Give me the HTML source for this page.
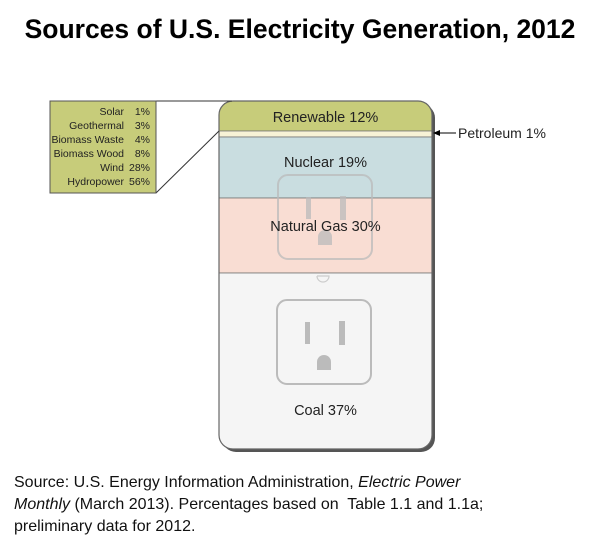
<!DOCTYPE html>
<html><head><meta charset="utf-8"><style>
body{margin:0;background:#fff;width:600px;height:550px;overflow:hidden;font-family:"Liberation Sans",Arial,sans-serif;position:relative}
#title{position:absolute;left:0;width:600px;top:14px;text-align:center;font-weight:bold;font-size:26.5px;color:#000;white-space:nowrap}
#source{position:absolute;left:14px;top:472px;font-size:16px;line-height:22px;color:#111;width:590px;white-space:nowrap}
svg{position:absolute;left:0;top:0}
</style></head><body>
<div id="title">Sources of U.S. Electricity Generation, 2012</div>
<svg id="chart" width="600" height="550"></svg>
<div id="source">Source: U.S. Energy Information Administration, <i>Electric Power</i><br><i>Monthly</i> (March 2013). Percentages based on&nbsp; Table 1.1 and 1.1a;<br>preliminary data for 2012.</div>
<script>
const sources=["Renewable","Petroleum","Nuclear","Natural Gas","Coal"];
const shares=[12,1,19,30,37];
const renewCats=["Solar","Geothermal","Biomass Waste","Biomass Wood","Wind","Hydropower"];
const renewVals=[1,3,4,8,28,56];
const NS="http://www.w3.org/2000/svg";
const svg=document.getElementById('chart');
function mk(t,a,p){const e=document.createElementNS(NS,t);for(const k in a)e.setAttribute(k,a[k]);(p||svg).appendChild(e);return e;}
const bandY=[101,131,137,198,273,449];
const colors=["#c7cc7a","#f7f2d6","#c9dde0","#f9ddd3","#f5f5f5"];
const X0=219,X1=432;
const defs=mk('defs',{});
const cp=mk('clipPath',{id:'plate'},defs);
mk('rect',{x:X0,y:101,width:X1-X0,height:348,rx:14},cp);
const sh=mk('rect',{x:X0+3,y:104,width:X1-X0,height:348,rx:14,fill:'#555'});


const g=mk('g',{'clip-path':'url(#plate)'});
for(let i=0;i<sources.length;i++){
  const r=mk('rect',{x:X0,y:bandY[i],width:X1-X0,height:bandY[i+1]-bandY[i],fill:colors[i],stroke:'#777','stroke-width':0.8},g);
  
  
}
mk('rect',{x:X0,y:101,width:X1-X0,height:348,rx:14,fill:'none',stroke:'#666','stroke-width':1.2});
function outlet(x,y,name,op){
  const o=mk('g',{opacity:op});
  
  
  mk('rect',{x:x,y:y,width:94,height:84,rx:10,fill:'none',stroke:'#bbb','stroke-width':2},o);
  mk('rect',{x:x+28,y:y+22,width:5,height:22,fill:'#bbb'},o);
  mk('rect',{x:x+62,y:y+21,width:6,height:24,fill:'#bbb'},o);
  mk('path',{d:`M${x+40} ${y+70} v-8 a7 7 0 0 1 14 0 v8 z`,fill:'#bbb'},o);
}
outlet(278,175,'outlet-upper',0.75);
outlet(277,300,'outlet-lower',1);
mk('path',{d:'M317 276 h12 a6 6 0 0 1 -12 0',fill:'none',stroke:'#ccc','stroke-width':1.2});
const labY=[122,null,167,231,415];
for(let i=0;i<sources.length;i++){
  if(labY[i]==null)continue;
  const t=mk('text',{x:325.5,y:labY[i],'text-anchor':'middle','font-size':14.5,fill:'#222'});
  t.textContent=sources[i]+' '+shares[i]+'%';
  
  
}
mk('line',{x1:456,y1:133,x2:436,y2:133,stroke:'#000','stroke-width':1});
mk('path',{d:'M433 133 l7 -3 v6 z',fill:'#000'});
const pt=mk('text',{x:458,y:138,'font-size':14,fill:'#222'});
pt.textContent=sources[1]+' '+shares[1]+'%';


const lb=mk('g',{});


mk('line',{x1:50,y1:101,x2:232,y2:101,stroke:'#333','stroke-width':1},lb);
mk('line',{x1:156,y1:193,x2:219,y2:131,stroke:'#333','stroke-width':1},lb);
mk('rect',{x:50,y:101,width:106,height:92,fill:'#c7cc7a',stroke:'#555','stroke-width':1},lb);
for(let i=0;i<renewCats.length;i++){
  const y=115+i*14;
  const a=mk('text',{x:124,y:y,'text-anchor':'end','font-size':10.5,fill:'#222'},lb);
  a.textContent=renewCats[i];
  
  
  const b=mk('text',{x:150,y:y,'text-anchor':'end','font-size':10.5,fill:'#222'},lb);
  b.textContent=renewVals[i]+'%';
  
  
}
</script>
</body></html>
